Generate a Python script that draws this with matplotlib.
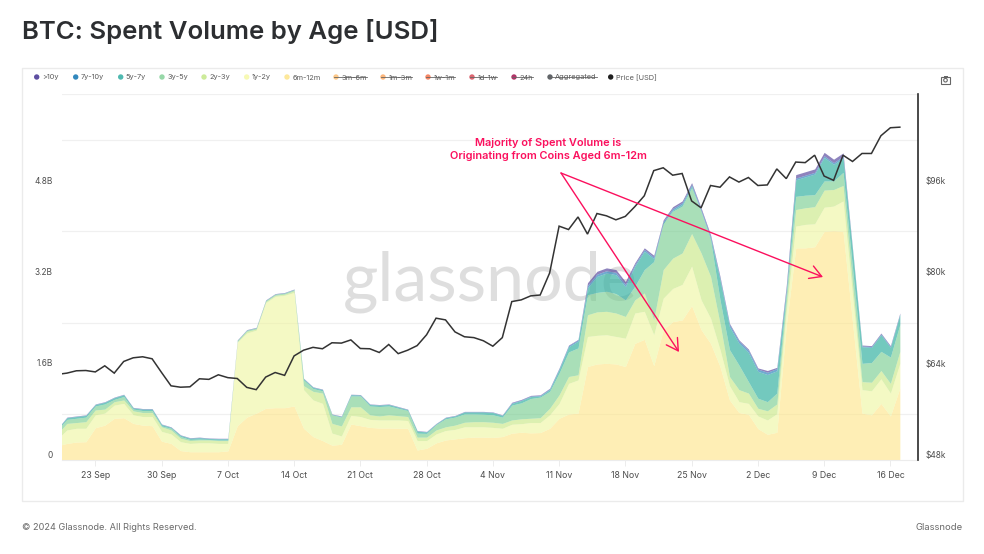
import numpy as np
import pandas as pd
from matplotlib import pyplot as plt
from matplotlib import dates as mdates
from matplotlib.patches import Rectangle, Circle, FancyArrowPatch
from matplotlib.transforms import IdentityTransform

W, H = 984, 554

plt.rcParams['font.family'] = ['Inter', 'DejaVu Sans']

dates = pd.date_range('2024-09-19', '2024-12-17')

# upper edge of each band in the stack, billions USD
edge_6m_12m = [.25, .29, .315, .32, .565, .61, .73, .74, .64, .61,
               .60, .33, .29, .165, .145, .145, .145, .145, .16, .60,
               .75, .82, .905, .915, .915, .945, .555, .41, .34, .26,
               .275, .63, .60, .57, .56, .56, .555, .555, .175, .205,
               .30, .35, .37, .39, .40, .40, .395, .41, .47, .485,
               .475, .48, .555, .73, .805, .82, 1.635, 1.68, 1.69, 1.68,
               1.635, 2.04, 2.11, 1.65, 2.28, 2.42, 2.45, 2.70, 2.28, 2.04,
               1.635, 1.05, .83, .80, .55, .45, .485, 2.35, 3.71, 3.71,
               3.73, 4.0, 4.01, 4.0, 2.41, .82, .79, .99, .77, 1.26]
edge_1y_2y = [.37, .525, .555, .555, .79, .82, .96, .99, .79, .76,
              .76, .50, .455, .32, .29, .30, .30, .29, .29, 2.06,
              2.22, 2.27, 2.75, 2.86, 2.88, 2.93, 1.23, 1.05, .99, .47,
              .42, .78, .76, .71, .70, .70, .70, .69, .34, .34,
              .455, .515, .535, .58, .58, .58, .57, .555, .625, .635,
              .655, .655, .79, .99, 1.34, 1.40, 2.16, 2.18, 2.19, 2.16,
              2.13, 2.57, 2.60, 2.19, 2.83, 3.0, 3.07, 3.39, 2.80, 2.48,
              1.93, 1.30, 1.02, .99, .77, .70, .81, 2.60, 4.09, 4.12,
              4.13, 4.42, 4.44, 4.53, 2.88, 1.23, 1.21, 1.42, 1.17, 1.69]
edge_2y_3y = [.46, .64, .655, .67, .875, .89, 1.02, 1.05, .86, .83,
              .83, .58, .525, .38, .34, .35, .35, .34, .34, 2.07,
              2.25, 2.29, 2.77, 2.88, 2.90, 2.96, 1.30, 1.20, 1.17, .64,
              .595, .93, .93, .79, .77, .79, .775, .76, .40, .40,
              .525, .58, .61, .66, .67, .67, .66, .64, .70, .72,
              .73, .74, .905, 1.14, 1.46, 1.49, 2.54, 2.59, 2.60, 2.57,
              2.51, 2.80, 2.92, 2.45, 3.33, 3.53, 3.62, 3.96, 3.62, 3.21,
              2.39, 1.46, 1.23, 1.17, .905, .86, .98, 2.75, 4.38, 4.41,
              4.43, 4.72, 4.73, 4.80, 3.08, 1.37, 1.36, 1.565, 1.34, 1.90]
edge_3y_5y = [.53, .71, .73, .75, .945, .98, 1.06, 1.11, .89, .865,
              .865, .595, .555, .41, .36, .365, .36, .35, .35, 2.09,
              2.27, 2.31, 2.79, 2.90, 2.92, 2.98, 1.40, 1.25, 1.21, .79,
              .75, 1.12, 1.12, .945, .935, .945, .905, .865, .47, .465,
              .62, .72, .75, .805, .805, .80, .79, .75, .96, 1.0,
              1.075, 1.10, 1.20, 1.52, 1.89, 1.96, 2.89, 2.93, 2.95, 2.91,
              2.80, 3.04, 3.33, 3.47, 4.15, 4.35, 4.44, 4.76, 4.35, 3.85,
              2.80, 1.93, 1.66, 1.37, 1.08, 1.02, 1.17, 2.90, 4.61, 4.63,
              4.64, 4.88, 4.88, 5.03, 3.36, 1.69, 1.705, 1.90, 1.80, 2.37]
total = [.55, .75, .77, .79, .98, 1.02, 1.10, 1.15, .92, .90,
         .90, .63, .58, .44, .39, .40, .385, .38, .38, 2.10,
         2.28, 2.32, 2.80, 2.91, 2.93, 2.99, 1.43, 1.28, 1.24, .805,
         .77, 1.15, 1.145, .98, .97, .98, .935, .89, .515, .50,
         .64, .75, .78, .85, .85, .85, .84, .79, 1.01, 1.06,
         1.13, 1.14, 1.255, 1.61, 2.01, 2.11, 3.10, 3.30, 3.36, 3.33,
         3.12, 3.45, 3.71, 3.58, 4.20, 4.43, 4.53, 4.85, 4.41, 3.94,
         3.21, 2.39, 2.10, 1.94, 1.61, 1.565, 1.62, 3.05, 4.99, 5.04,
         5.09, 5.38, 5.26, 5.37, 3.70, 2.01, 2.00, 2.22, 2.00, 2.57]
vol_7y_10y = [.005, .005, .005, .005, .005, .005, .005, .005, .005, .005,
              .005, .005, .005, .005, .005, .005, .005, .005, .005, .005,
              .005, .005, .005, .005, .005, .005, .005, .005, .005, .005,
              .005, .005, .005, .005, .005, .005, .005, .005, .005, .005,
              .005, .005, .005, .005, .005, .005, .005, .005, .01, .01,
              .01, .01, .015, .02, .02, .02, .04, .04, .04, .04,
              .04, .03, .03, .03, .03, .03, .03, .03, .03, .03,
              .03, .04, .04, .04, .04, .04, .04, .03, .03, .03,
              .03, .03, .03, .03, .015, .015, .015, .015, .015, .015]
vol_10y = [.005, .005, .005, .005, .005, .005, .005, .005, .005, .005,
           .005, .005, .005, .005, .005, .005, .005, .005, .005, .005,
           .005, .005, .005, .005, .005, .005, .005, .005, .005, .005,
           .005, .005, .005, .005, .005, .005, .005, .005, .005, .005,
           .005, .005, .005, .005, .005, .005, .005, .005, .01, .01,
           .01, .01, .01, .01, .01, .01, .05, .05, .05, .05,
           .05, .03, .03, .03, .03, .03, .03, .03, .03, .03,
           .03, .02, .02, .02, .02, .03, .02, .06, .06, .06,
           .06, .06, .06, .06, .015, .015, .015, .015, .015, .015]
price_k = [62.97, 63.19, 63.6, 63.65, 63.4, 64.47, 63.19, 65.23, 65.87, 66.05,
           65.7, 63.3, 60.97, 60.73, 60.8, 62.2, 62.1, 62.9, 62.4, 62.25,
           60.7, 60.3, 62.5, 63.3, 62.8, 66.2, 67.2, 67.7, 67.45, 68.5,
           68.44, 69.0, 67.5, 67.45, 66.8, 68.2, 66.6, 67.2, 68.0, 69.9,
           72.8, 72.5, 70.4, 69.55, 69.4, 68.85, 67.9, 69.4, 75.7, 76.0,
           76.7, 76.85, 80.7, 88.89, 88.3, 90.5, 87.5, 91.1, 90.7, 90.0,
           90.6, 92.3, 94.2, 98.6, 99.1, 97.8, 98.1, 93.3, 92.1, 96.0,
           95.7, 97.5, 96.6, 97.4, 96.0, 96.1, 98.9, 97.2, 100.1, 100.0,
           101.3, 97.65, 96.9, 101.3, 100.2, 101.6, 101.6, 104.7, 106.1, 106.2]

legend_labels = ['>10y', '7y-10y', '5y-7y', '3y-5y', '2y-3y', '1y-2y', '6m-12m', '3m-6m',
                 '1m-3m', '1w-1m', '1d-1w', '24h', 'Aggregated', 'Price [USD]']
legend_colors = ['#5e4fa2', '#3288bd', '#4fb9b0', '#97d8a8', '#cdeb9a', '#f7f9b4', '#fde89a', '#fdbb6a',
                 '#fca55d', '#f4693f', '#d5404e', '#9e0142', '#3a3f44', '#1f1f1f']
legend_hidden = [False, False, False, False, False, False, False, True,
                 True, True, True, True, True, False]
band_colors = ['#fee484', '#eef59d', '#c6e67d', '#70ca8a', '#38b2a3', '#3288bd', '#5e4fa2']


def px_text(x, y, s, **kw):
    return plt.gcf().text(x / W, 1 - y / H, s, **kw)


def draw_chrome(fig):
    fig.add_artist(Rectangle((22, H - 501), 941, 433, transform=IdentityTransform(),
                             fc='white', ec='#ebebeb', lw=1, zorder=-1))
    px_text(22, 31, 'BTC: Spent Volume by Age [USD]', fontsize=18.55, fontweight='semibold',
            color='#2c2e31', va='center')
    px_text(22, 528, '© 2024 Glassnode. All Rights Reserved.', fontsize=6.6, color='#6a6a6a', va='center')
    px_text(963, 528, 'Glassnode', fontsize=6.8, color='#6a6a6a', va='center', ha='right')
    # camera button
    fig.add_artist(Rectangle((941, H - 83.5), 9, 6.5, transform=IdentityTransform(), fc='none', ec='#666666', lw=.8))
    fig.add_artist(Rectangle((943.5, H - 77), 4, 1.2, transform=IdentityTransform(), fc='#666666', ec='none'))
    fig.add_artist(Circle((945.5, H - 80.2), 1.8, transform=IdentityTransform(), fc='none', ec='#666666', lw=.8))


def draw_legend(fig):
    dot_x = [36.7, 75.7, 120.7, 162, 204, 246.7, 287, 336, 383, 428, 472, 514, 550, 610.7]
    fig.canvas.draw()
    renderer = fig.canvas.get_renderer()
    for x, label, color, hidden in zip(dot_x, legend_labels, legend_colors, legend_hidden):
        fig.add_artist(Circle((x, H - 77), 2.7, transform=IdentityTransform(), fc=color, ec='none',
                              alpha=.8 if hidden else 1))
        t = px_text(x + 5.2, 77.5, label, fontsize=5.3, color='#5a5a5a', va='center')
        if hidden:
            box = t.get_window_extent(renderer)
            fig.add_artist(plt.Line2D([x - 2, box.x1], [H - 77, H - 77], transform=IdentityTransform(),
                                      color='#666666', lw=.6))


def draw_callout(fig):
    red = '#fb0f5d'
    px_text(548.5, 142.5, 'Majority of Spent Volume is', fontsize=7.9, fontweight='semibold',
            color=red, ha='center', va='center')
    px_text(548.5, 156, 'Originating from Coins Aged 6m-12m', fontsize=7.9, fontweight='semibold',
            color=red, ha='center', va='center')
    for end in [(679, H - 352), (823, H - 277)]:
        fig.add_artist(FancyArrowPatch((561, H - 173), end, transform=IdentityTransform(),
                                       arrowstyle='->,head_length=2.6,head_width=1.5', mutation_scale=3.2,
                                       color=red, lw=1, shrinkA=0, shrinkB=0, zorder=6))


def run():
    fig = plt.figure(figsize=(W / 100, H / 100), dpi=100)
    draw_chrome(fig)

    ax = fig.add_axes([61.7 / W, (H - 460) / H, (918.3 - 61.7) / W, 366 / H])
    ax.patch.set_visible(False)

    edge_7y_10y = np.array(total) - np.array(vol_10y)
    edge_5y_7y = edge_7y_10y - np.array(vol_7y_10y)
    edges = [np.zeros(len(dates)), edge_6m_12m, edge_1y_2y, edge_2y_3y, edge_3y_5y, edge_5y_7y, edge_7y_10y, total]
    for i, color in enumerate(band_colors):
        alpha = .6 if i < 4 else .7
        ax.fill_between(dates, edges[i], edges[i + 1], color=color, alpha=alpha, lw=0, zorder=2)

    start = pd.Timestamp('2024-09-23')
    ax.set_xlim(start - pd.Timedelta(days=3.55), start + pd.Timedelta(days=86.95))
    ax.set_ylim(0, 6.4)

    ax.text(0.5, 0.487, 'glassnode', transform=ax.transAxes, color='#dedede', fontsize=49,
            family=['Lato', 'DejaVu Sans'], ha='center', va='center', zorder=1)

    ax.set_yticks([0, 1.6, 3.2, 4.8])
    ax.set_yticklabels(['0', '1.6B', '3.2B', '4.8B'])
    ax.set_yticks(np.arange(0, 6.5, .8), minor=True)
    ax.grid(True, which='minor', axis='y', color='#f0f0f0', lw=.9, zorder=0)
    ax.set_axisbelow(True)
    ax.xaxis.set_major_locator(mdates.WeekdayLocator(byweekday=mdates.MO))
    ax.xaxis.set_major_formatter(mdates.DateFormatter('%-d %b'))
    ax.tick_params(axis='x', length=4, width=.7, color='#ececec', labelsize=6.3, labelcolor='#4d4d4d', pad=4)
    ax.tick_params(axis='y', which='both', length=0, labelsize=6, labelcolor='#4d4d4d', pad=6.5)
    for label in ax.get_yticklabels():
        label.set_verticalalignment('bottom')
    for side in ['top', 'left', 'right']:
        ax.spines[side].set_visible(False)
    ax.spines['bottom'].set_color('#ececec')

    ax2 = ax.twinx()
    ax2.plot(dates, price_k, color='#333333', lw=1.1, zorder=5, solid_joinstyle='miter')
    ax2.set_ylim(48, 112)
    ax2.set_yticks([48, 64, 80, 96])
    ax2.set_yticklabels(['$48k', '$64k', '$80k', '$96k'])
    ax2.tick_params(axis='y', length=0, labelsize=6, labelcolor='#4d4d4d', pad=5)
    for label in ax2.get_yticklabels():
        label.set_verticalalignment('bottom')
    for side in ['top', 'left', 'bottom']:
        ax2.spines[side].set_visible(False)
    ax2.spines['right'].set_color('#2b2b2b')
    ax2.spines['right'].set_linewidth(1.2)

    draw_legend(fig)
    draw_callout(fig)
    fig.savefig('out.png', dpi=100)


if __name__ == '__main__':
    run()
